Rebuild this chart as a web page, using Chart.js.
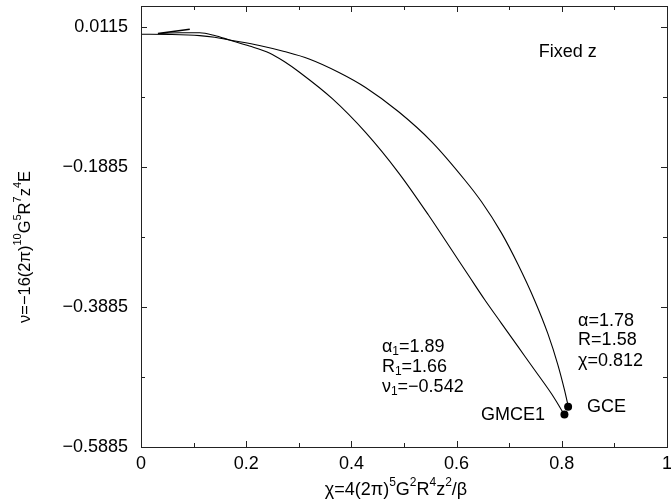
<!DOCTYPE html>
<html>
<head>
<meta charset="utf-8">
<script src="https://cdn.jsdelivr.net/npm/chart.js@4"></script>
<style>
html,body{margin:0;padding:0;background:#fff;}
#wrap{width:671px;height:501px;position:relative;}
</style>
</head>
<body>
<div id="wrap"><canvas id="c"></canvas></div>
<script>
// ---- data ----
const chiGCE = [0, 0.0548, 0.1116, 0.1400, 0.1683, 0.2251, 0.2723, 0.3196, 0.3764, 0.4269, 0.4898, 0.5528, 0.6160, 0.6474, 0.6852, 0.7168, 0.7484, 0.7735, 0.7924, 0.8051, 0.8123];
const nuGCE  = [0.0011, 0.0008, -0.0008, -0.0032, -0.0071, -0.0149, -0.0235, -0.0342, -0.0535, -0.0749, -0.1096, -0.1525, -0.2074, -0.2382, -0.2826, -0.3278, -0.3791, -0.4266, -0.4708, -0.5070, -0.5307];
const chiSpur = [0.0927, 0.0322];
const nuSpur  = [0.0082, 0.0022];
const chiGMCE = [0.0322, 0.0738, 0.1116, 0.1400, 0.1683, 0.2061, 0.2440, 0.2723, 0.3007, 0.3637, 0.4269, 0.4898, 0.5465, 0.5901, 0.6222, 0.6538, 0.6852, 0.7168, 0.7484, 0.7798, 0.7957, 0.8051];
const nuGMCE  = [0.0022, 0.0032, 0.0032, -0.0006, -0.0071, -0.0156, -0.0256, -0.0378, -0.0528, -0.0909, -0.1391, -0.1968, -0.2571, -0.3064, -0.3428, -0.3785, -0.4118, -0.4452, -0.4785, -0.5118, -0.5309, -0.5428];
const pointNames = ['GCE', 'GMCE1'];
const pointChi = [0.812, 0.805];
const pointNu  = [-0.531, -0.542];
const xTickValues = [0, 0.2, 0.4, 0.6, 0.8, 1];
const xTickLabels = ['0', '0.2', '0.4', '0.6', '0.8', '1'];
const xMinorTicks = [0.1, 0.3, 0.5, 0.7, 0.9];
const yTickValues = [-0.5885, -0.3885, -0.1885, 0.0115];
const yTickLabels = ['\u22120.5885', '\u22120.3885', '\u22120.1885', '0.0115'];
const yMinorTicks = [-0.4885, -0.2885, -0.0885];

const FONT = '"Liberation Sans", Arial, Helvetica, sans-serif';
const BIG = 18, SMALL = 12;

function richWidth(ctx, parts, big, small){
  let w = 0;
  for (const p of parts){
    ctx.font = (p[1] ? small : big) + 'px ' + FONT;
    w += ctx.measureText(p[0]).width;
  }
  return w;
}
function drawRich(ctx, parts, x, y, align, big = BIG, small = SMALL){
  const w = richWidth(ctx, parts, big, small);
  let cx = align === 'right' ? x - w : (align === 'center' ? x - w/2 : x);
  ctx.textBaseline = 'middle';
  ctx.textAlign = 'left';
  ctx.fillStyle = '#000';
  for (const p of parts){
    ctx.font = (p[1] ? small : big) + 'px ' + FONT;
    let dy = 0;
    if (p[1] === 'sup') dy = -Math.round(big * 0.4);
    if (p[1] === 'sub') dy = Math.round(big * 0.28);
    ctx.fillText(p[0], cx, y + dy);
    cx += ctx.measureText(p[0]).width;
  }
}

const notes = [
  {x: 0.756, y: -0.0242, parts: [['Fixed z']], align: 'left'},
  {x: 0.458, y: -0.4452, parts: [['\u03b1'], ['1','sub'], ['=1.89']], align: 'left'},
  {x: 0.458, y: -0.4738, parts: [['R'], ['1','sub'], ['=1.66']], align: 'left'},
  {x: 0.458, y: -0.5028, parts: [['\u03bd'], ['1','sub'], ['=\u22120.542']], align: 'left'},
  {x: 0.831, y: -0.408, parts: [['\u03b1=1.78']], align: 'left'},
  {x: 0.831, y: -0.4356, parts: [['R=1.58']], align: 'left'},
  {x: 0.831, y: -0.4652, parts: [['\u03c7=0.812']], align: 'left'},
  {x: 0.848, y: -0.531, parts: [['GCE']], align: 'left'},
  {x: 0.768, y: -0.543, parts: [['GMCE1']], align: 'right'}
];

const framePlugin = {
  id: 'frame',
  afterDraw(chart){
    const ctx = chart.ctx;
    const a = chart.chartArea;
    const xs = chart.scales.x, ys = chart.scales.y;
    ctx.save();
    ctx.strokeStyle = '#222';
    ctx.lineWidth = 1;
    ctx.strokeRect(Math.round(a.left)+0.5, Math.round(a.top)+0.5, Math.round(a.right-a.left), Math.round(a.bottom-a.top));
    ctx.beginPath();
    const tick = (vals, len) => {
      for (const v of vals){
        const px = Math.round(xs.getPixelForValue(v)) + 0.5;
        ctx.moveTo(px, a.bottom); ctx.lineTo(px, a.bottom - len);
        ctx.moveTo(px, a.top); ctx.lineTo(px, a.top + len);
      }
    };
    const ytick = (vals, len) => {
      for (const v of vals){
        const py = Math.round(ys.getPixelForValue(v)) + 0.5;
        ctx.moveTo(a.left, py); ctx.lineTo(a.left + len, py);
        ctx.moveTo(a.right, py); ctx.lineTo(a.right - len, py);
      }
    };
    tick(xTickValues, 6); tick(xMinorTicks, 4);
    ytick(yTickValues, 6); ytick(yMinorTicks, 4);
    ctx.stroke();
    for (const n of notes){
      drawRich(ctx, n.parts, xs.getPixelForValue(n.x), ys.getPixelForValue(n.y), n.align);
    }
    drawRich(ctx, [['\u03c7=4(2\u03c0)'], ['5','sup'], ['G'], ['2','sup'], ['R'], ['4','sup'], ['z'], ['2','sup'], ['/\u03b2']], 396, 490, 'center');
    ctx.translate(25, 247);
    ctx.rotate(-Math.PI/2);
    drawRich(ctx, [['\u03bd=\u221216(2\u03c0)'], ['10','sup'], ['G'], ['5','sup'], ['R'], ['7','sup'], ['z'], ['4','sup'], ['E']], 0, 0, 'center', 16.5, 11);
    ctx.restore();
  }
};

const toXY = (xs, ys) => xs.map((v, i) => ({x: v, y: ys[i]}));
const noPad = (scale) => { scale.paddingTop = 0; scale.paddingBottom = 0; scale.paddingLeft = 0; scale.paddingRight = 0; };
const lineStyle = {showLine: true, borderColor: '#000', borderWidth: 1.1, pointRadius: 0, cubicInterpolationMode: 'monotone', fill: false};

new Chart(document.getElementById('c'), {
  type: 'scatter',
  data: {
    datasets: [
      Object.assign({label: 'GCE', data: toXY(chiGCE, nuGCE)}, lineStyle),
      Object.assign({label: 'GMCE1', data: toXY(chiGMCE, nuGMCE)}, lineStyle),
      Object.assign({label: 'spur', data: toXY(chiSpur, nuSpur)}, lineStyle, {cubicInterpolationMode: 'default', tension: 0, borderWidth: 1.6}),
      {label: 'points', data: toXY(pointChi, pointNu), showLine: false, pointRadius: 4, backgroundColor: '#000', borderColor: '#000', borderWidth: 0}
    ]
  },
  options: {
    responsive: true,
    maintainAspectRatio: false,
    animation: false,
    events: [],
    layout: {padding: {top: 6, right: 3, left: 0, bottom: 0}},
    plugins: {legend: {display: false}, tooltip: {enabled: false}, title: {display: false}},
    scales: {
      x: {
        type: 'linear', min: 0, max: 1,
        grid: {display: false, drawTicks: false},
        border: {display: false},
        afterBuildTicks(scale){ scale.ticks = xTickValues.map(v => ({value: v})); },
        afterFit(scale){ scale.height = 54; noPad(scale); },
        ticks: {color: '#000', font: {family: FONT, size: BIG}, padding: 6, maxRotation: 0, autoSkip: false,
          callback: (v, i) => xTickLabels[i]}
      },
      y: {
        type: 'linear', min: -0.5885, max: 0.0415,
        grid: {display: false, drawTicks: false},
        border: {display: false},
        afterBuildTicks(scale){ scale.ticks = yTickValues.map(v => ({value: v})); },
        afterFit(scale){ scale.width = 141; noPad(scale); },
        ticks: {color: '#000', font: {family: FONT, size: BIG}, padding: 13, autoSkip: false,
          callback: (v, i) => yTickLabels[i]}
      }
    }
  },
  plugins: [framePlugin]
});
</script>
</body>
</html>
